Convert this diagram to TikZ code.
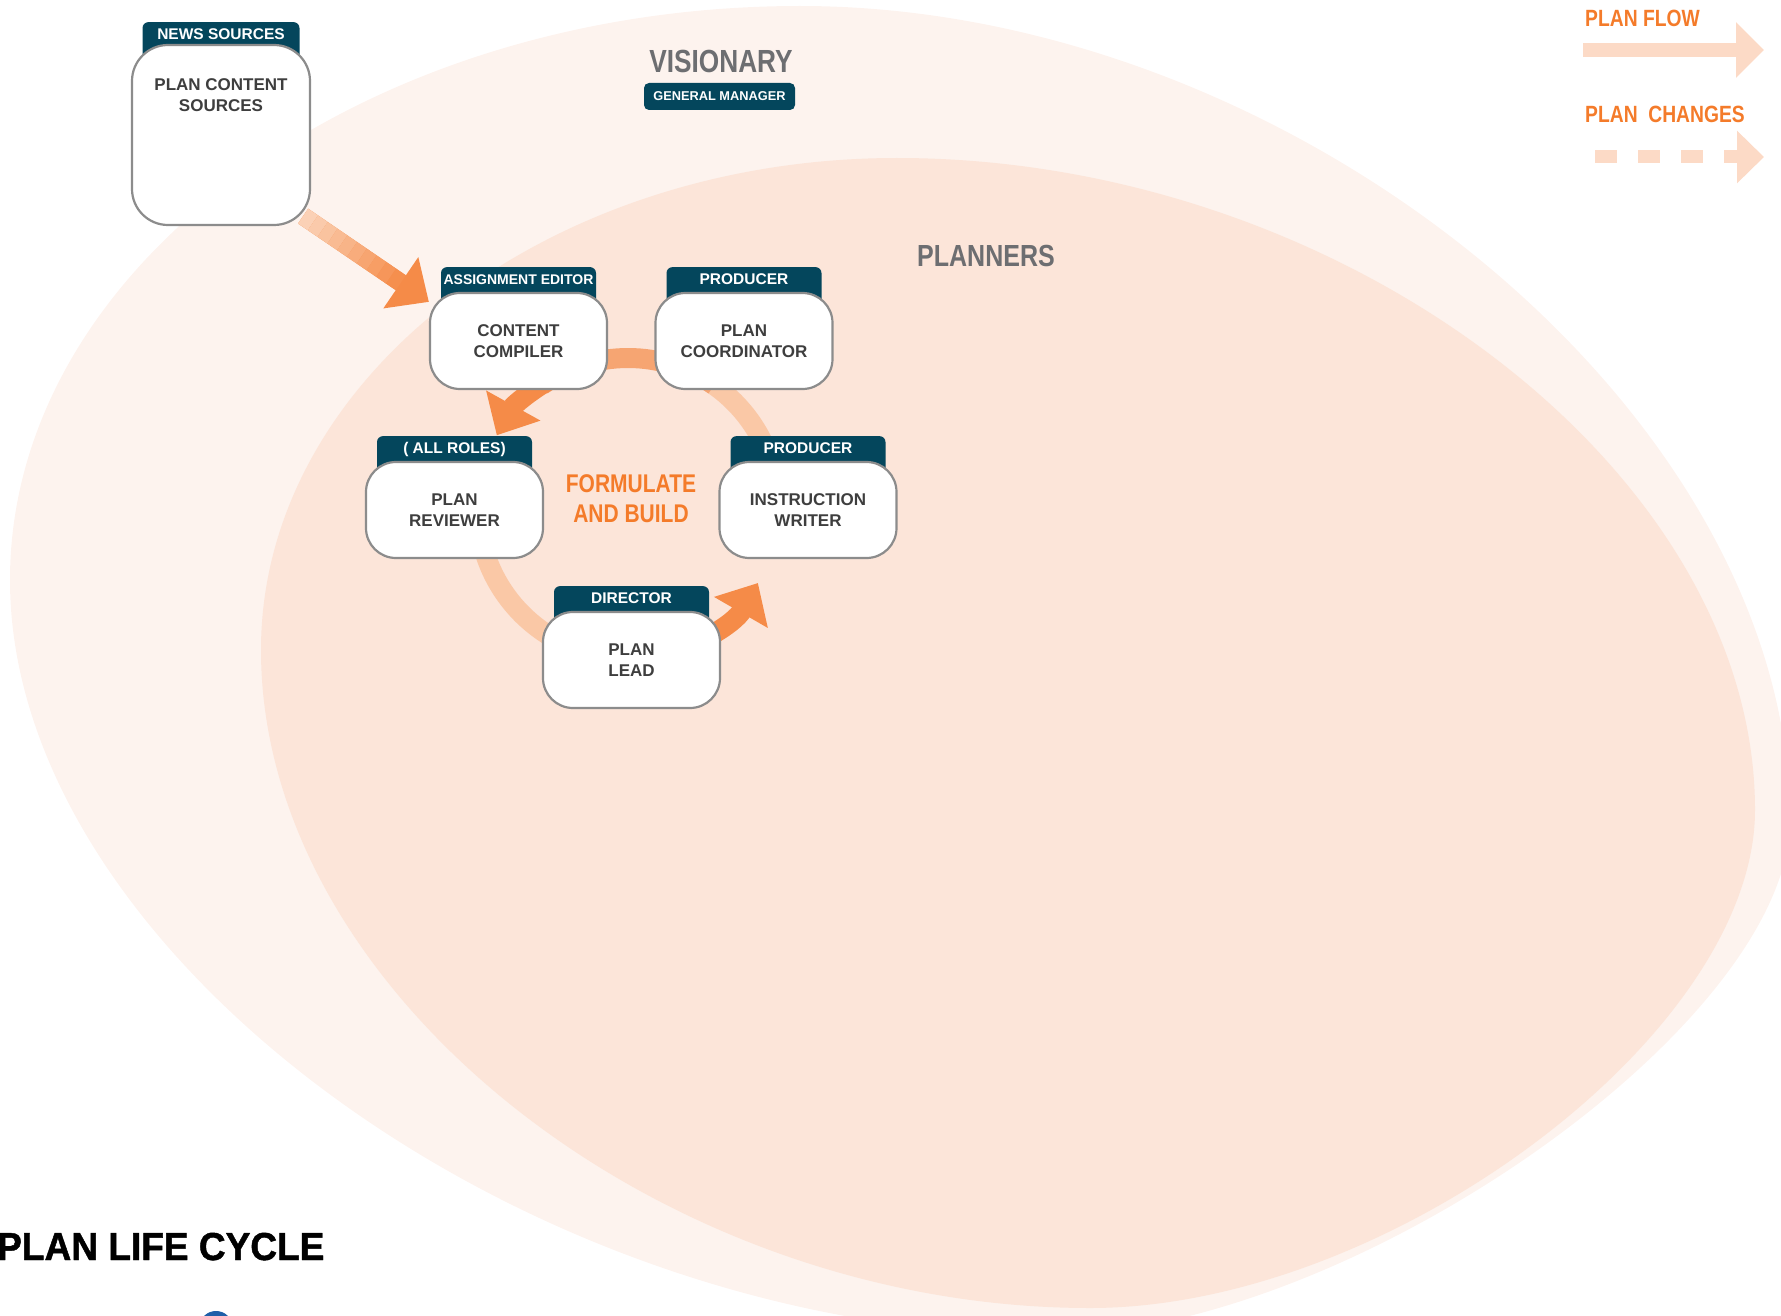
\documentclass[tikz,border=0pt]{standalone}
\usepackage{fontspec}
\setmainfont{Liberation Sans}
\newfontfamily\condfont{Liberation Sans}[FakeStretch=0.82]
\newfontfamily\titlefont{Liberation Sans}[FakeStretch=0.95,FakeBold=1.2]
\usetikzlibrary{arrows.meta,positioning,calc}

\definecolor{outerpeach}{RGB}{253,243,238}
\definecolor{innerpeach}{RGB}{252,229,217}
\definecolor{tabteal}{RGB}{4,70,92}
\definecolor{boxgray}{RGB}{140,140,140}
\definecolor{boxtext}{RGB}{62,62,62}
\definecolor{headgray}{RGB}{109,110,113}
\definecolor{flowor}{RGB}{244,123,42}
\definecolor{legpeach}{RGB}{252,218,198}
\definecolor{ringdark}{RGB}{245,139,72}
\definecolor{ringmid}{RGB}{246,165,114}
\definecolor{ringlight}{RGB}{250,200,166}
\definecolor{newslight}{RGB}{251,213,188}
\definecolor{logoblue}{RGB}{31,95,168}

\pgfdeclarelayer{back}
\pgfdeclarelayer{tabs}
\pgfsetlayers{back,tabs,main}

\tikzset{
  role/.style={draw=boxgray, line width=2.2pt, fill=white, rounded corners=30pt,
    minimum width=177pt, minimum height=96pt, align=center, text=boxtext,
    font=\fontsize{17}{21}\selectfont\bfseries},
  roletab/.style={fill=tabteal, rounded corners=6pt, minimum width=155pt, anchor=north,
    inner ysep=6pt, inner xsep=2pt, text height=11pt, text depth=30pt, text=white,
    font=\fontsize{15.5}{17}\selectfont\bfseries},
  ringband/.style={line width=20pt},
  ringtip/.style={-{Triangle[width=60pt,length=34pt]}},
  headtxt/.style={font=\condfont\bfseries\fontsize{#1}{#1}\selectfont, inner sep=0pt},
}

\begin{document}
\begin{tikzpicture}[x=1pt, y=-1pt]
\useasboundingbox (0,0) rectangle (1781,1316);

% the two fields
\begin{pgfonlayer}{back}
\fill[outerpeach] (10,580) .. controls (10,264) and (366,6) .. (800,6)
  .. controls (1295,6) and (1790,413) .. (1790,820)
  .. controls (1790,1026) and (1346,1335) .. (1050,1335)
  .. controls (530,1335) and (10,955) .. cycle;
\fill[innerpeach] (261,650) .. controls (261,379) and (547,158) .. (897,158)
  .. controls (1343,158) and (1755,471) .. (1755,810)
  .. controls (1755,1034) and (1389,1308) .. (1090,1308)
  .. controls (659,1308) and (261,992) .. cycle;
\end{pgfonlayer}
\fill[logoblue] (216,1326) ellipse [x radius=16, y radius=15];

% legend
\node[headtxt=23.5, text=flowor, anchor=base west] (flowlbl) at (1585,27) {PLAN FLOW};
\coordinate (flowS) at (1583,50);
\coordinate (flowE) at (1764,50);
\draw[legpeach, line width=14pt, -{Triangle[width=54pt,length=28pt]}] (flowS) -- (flowE);
\node[headtxt=23.5, text=flowor, anchor=base west] (chglbl) at (1585,123) {PLAN\ \ CHANGES};
\coordinate (chgS) at (1595,157);
\coordinate (chgE) at (1764,157);
\draw[legpeach, line width=13pt, dash pattern=on 22pt off 21pt, -{Triangle[width=51pt,length=27pt]}] (chgS) -- (chgE);

% headings
\node[headtxt=32, text=headgray, anchor=base] (vis) at (721,73) {VISIONARY};
\node[fill=tabteal, rounded corners=5pt, minimum width=151pt, minimum height=27pt, inner sep=0pt,
  text=white, font=\fontsize{12.8}{14}\selectfont\bfseries] (gm) at (719.5,96.5) {GENERAL MANAGER};
\node[headtxt=30.5, text=headgray, anchor=base] (plnr) at (986,267) {PLANNERS};
\node[font=\condfont\bfseries\fontsize{25.6}{30}\selectfont, inner sep=0pt, text=flowor, align=center] (fab) at (631,499) {FORMULATE\\AND BUILD};
\node[font=\titlefont\bfseries\fontsize{39}{39}\selectfont, inner sep=0pt, text=black, anchor=base west] (title) at (-3,1260) {PLAN LIFE CYCLE};

% roles
\node[role] (cc) at (518.5,341) {CONTENT\\COMPILER};
\node[role] (pc) at (744,341) {PLAN\\COORDINATOR};
\node[role] (pr) at (454.5,510) {PLAN\\REVIEWER};
\node[role] (iw) at (808,510) {INSTRUCTION\\WRITER};
\node[role] (pl) at (631.5,660) {PLAN\\LEAD};
\node[role, minimum width=178pt, minimum height=180pt, rounded corners=36pt] (src) at (221,135) {};
\node[inner sep=0pt, anchor=north, align=center, text=boxtext, font=\fontsize{17}{21}\selectfont\bfseries] (srctxt) at (221,78) {PLAN CONTENT\\SOURCES};

\begin{pgfonlayer}{tabs}
\node[roletab, font=\fontsize{14}{16}\selectfont\bfseries] (cctab) at ([yshift=25pt]cc.north) {ASSIGNMENT EDITOR};
\node[roletab] (pctab) at ([yshift=25pt]pc.north) {PRODUCER};
\node[roletab] (prtab) at ([yshift=25pt]pr.north) {( ALL ROLES)};
\node[roletab] (iwtab) at ([yshift=25pt]iw.north) {PRODUCER};
\node[roletab] (pltab) at ([yshift=25pt]pl.north) {DIRECTOR};
\node[roletab, minimum width=157pt] (srctab) at ([yshift=22pt]src.north) {NEWS SOURCES};
\end{pgfonlayer}

% cycle and feed
\coordinate (ring) at (628,508);
\coordinate (ns) at ([shift={(-8pt,10pt)}]src.south east);
\coordinate (ne) at ([yshift=-10pt]cc.north west);
\coordinate (nb) at ($(ne)!34pt!(ns)$);
\begin{pgfonlayer}{back}
\draw[ringband, ringlight] (ring) ++(-8:150) arc[start angle=-8, end angle=-62, radius=150];
\draw[ringband, ringmid] (ring) ++(-55:150) arc[start angle=-55, end angle=-125, radius=150];
\draw[ringband, ringdark, ringtip] (ring) ++(-112:150) arc[start angle=-112, end angle=-151, radius=150];
\draw[ringband, ringlight] (ring) ++(178:150) arc[start angle=178, end angle=98, radius=150];
\draw[ringband, ringdark, ringtip] (ring) ++(82:150) arc[start angle=82, end angle=30, radius=150];
\draw[line width=18pt, ringdark, ringtip] (ns) -- (ne);
\foreach \t in {0,...,9} {
  \pgfmathtruncatemacro\p{10*\t+5}
  \draw[line width=18pt, ringdark!\p!newslight] ($(ns)!\t/10!(nb)$) -- ($(ns)!{(\t+1)/10}!(nb)$);
}
\end{pgfonlayer}
\end{tikzpicture}
\end{document}
